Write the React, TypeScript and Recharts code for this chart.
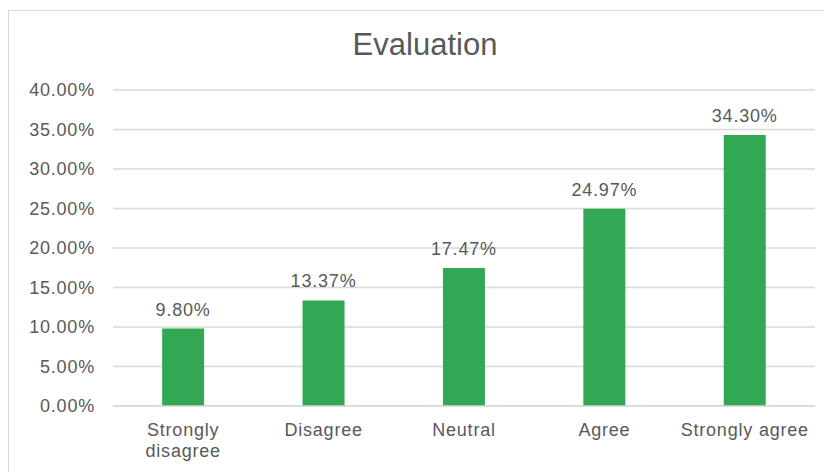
import React from "react";
import { BarChart, Bar, XAxis, YAxis, CartesianGrid, LabelList } from "recharts";

const categories = ["Strongly disagree", "Disagree", "Neutral", "Agree", "Strongly agree"];
const shares = [9.8, 13.37, 17.47, 24.97, 34.3];
const yTicks = [0, 5, 10, 15, 20, 25, 30, 35, 40];

const data = categories.map((name, i) => ({ name, value: shares[i] }));

const pct = (v: number) => `${Number(v).toFixed(2)}%`;

const textStyle = {
  fontFamily: "'Liberation Sans', Arial, sans-serif",
  fontSize: 18,
  letterSpacing: 0.8,
  fill: "#595959",
};

// long category names break at their last space onto a second line
const splitLabel = (s: string) => {
  if (s.length <= 15) return [s];
  const i = s.lastIndexOf(" ");
  return i > 0 ? [s.slice(0, i), s.slice(i + 1)] : [s];
};

const CategoryTick = (props: any) => {
  const { x, y, payload } = props;
  const lines = splitLabel(String(payload.value));
  return (
    <text x={x} y={y} textAnchor="middle" style={textStyle}>
      {lines.map((line, i) => (
        <tspan key={i} x={x} dy={i === 0 ? "0.71em" : 21}>
          {line}
        </tspan>
      ))}
    </text>
  );
};

export default function App() {
  return (
    <div
      style={{
        position: "relative",
        marginTop: 2,
        width: 816,
        height: 470,
        border: "1px solid #d9d9d9",
        background: "#fff",
      }}
    >
      <div
        style={{
          position: "absolute",
          top: 18.6,
          left: 0,
          width: 832,
          textAlign: "center",
          fontFamily: "'Liberation Sans', Arial, sans-serif",
          fontSize: 31,
          lineHeight: "30px",
          color: "#595959",
        }}
      >
        Evaluation
      </div>
      <BarChart
        width={816}
        height={460}
        data={data}
        margin={{ top: 79, right: 10, left: 0, bottom: 0 }}
        barCategoryGap="35%"
      >
        <CartesianGrid vertical={false} stroke="#d9d9d9" strokeWidth={1.5} />
        <XAxis
          dataKey="name"
          height={65}
          axisLine={{ stroke: "#d9d9d9", strokeWidth: 1.5 }}
          tickLine={false}
          tickSize={0}
          tickMargin={17}
          interval={0}
          tick={<CategoryTick />}
        />
        <YAxis
          width={104}
          domain={[0, 40]}
          ticks={yTicks}
          tickFormatter={pct}
          axisLine={false}
          tickLine={false}
          tickSize={0}
          tickMargin={18}
          tick={textStyle}
        />
        <Bar dataKey="value" fill="#33a852" isAnimationActive={false}>
          <LabelList dataKey="value" position="top" offset={13} formatter={pct} style={textStyle} />
        </Bar>
      </BarChart>
    </div>
  );
}
